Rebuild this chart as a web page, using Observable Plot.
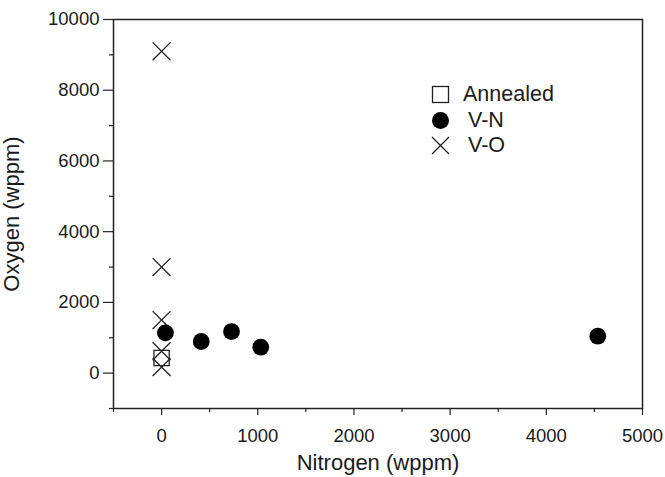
<!DOCTYPE html>
<html><head><meta charset="utf-8">
<script src="https://cdn.jsdelivr.net/npm/d3@7"></script>
<script src="https://cdn.jsdelivr.net/npm/@observablehq/plot@0.6"></script>
<style>
body{margin:0;background:#fff;}
#wrap{position:relative;width:665px;height:477px;font-family:"Liberation Sans",Arial,sans-serif;}
#wrap svg{font-family:"Liberation Sans",Arial,sans-serif;}
g[aria-label="x-axis label"] text, g[aria-label="y-axis label"] text{font-size:22px;}
#legend{position:absolute;left:431px;top:82px;font-size:21.5px;color:#1a1a1a;}
#legend div{display:flex;align-items:center;height:25.5px;}
#legend svg{flex:none;}
</style></head>
<body><div id="wrap"></div>
<script>
const annealedN = [0];
const annealedO = [430];
const vnN = [40, 412, 727, 1031, 4535];
const vnO = [1140, 894, 1176, 733, 1044];
const voN = [0, 0, 0, 0, 0];
const voO = [9100, 3000, 1500, 620, 170];
const xMajor = [0, 1000, 2000, 3000, 4000, 5000];
const xMinor = [-500, 500, 1500, 2500, 3500, 4500];
const yMajor = [0, 2000, 4000, 6000, 8000, 10000];
const yMinor = [-1000, 1000, 3000, 5000, 7000, 9000];
const legendItems = ["Annealed", "V-N", "V-O"];

const ann = annealedN.map((n,i)=>({n, o: annealedO[i]}));
const vn = vnN.map((n,i)=>({n, o: vnO[i]}));
const vo = voN.map((n,i)=>({n, o: voO[i]}));

const chart = Plot.plot({
  width: 665, height: 477,
  marginLeft: 113, marginRight: 23, marginTop: 19, marginBottom: 69,
  style: {fontSize: "18.5px", color: "#1a1a1a", background: "#fff"},
  x: {domain: [-500, 5000]},
  y: {domain: [-1000, 10000]},
  marks: [
    Plot.frame({stroke: "#222", strokeWidth: 1.5}),
    Plot.axisX(xMinor, {tickSize: 4, text: null, label: null, stroke: "#222", strokeWidth: 1.2}),
    Plot.axisX(xMajor, {tickSize: 7, tickPadding: 13, tickFormat: d => String(d), label: "Nitrogen (wppm)", labelArrow: "none", labelAnchor: "center", labelOffset: 61, stroke: "#222", strokeWidth: 1.2}),
    Plot.axisY(yMinor, {tickSize: 4, text: null, label: null, stroke: "#222", strokeWidth: 1.2}),
    Plot.axisY(yMajor, {tickSize: 10, tickPadding: 4, tickFormat: d => String(d), label: "Oxygen (wppm)", labelArrow: "none", labelAnchor: "center", labelOffset: 110, stroke: "#222", strokeWidth: 1.2}),
    Plot.dot(vo, {x: "n", y: "o", symbol: "times", r: 8.2, stroke: "#222", strokeWidth: 1.3}),
    Plot.dot(ann, {x: "n", y: "o", symbol: "square", r: 8.6, stroke: "#222", strokeWidth: 1.3, fill: "none"}),
    Plot.dot(vn, {x: "n", y: "o", symbol: "circle", r: 8.4, fill: "#000", stroke: "none"})
  ]
});
const wrap = document.getElementById("wrap");
wrap.appendChild(chart);

const sym = {
  "Annealed": '<rect x="1.5" y="1.5" width="16" height="16" fill="none" stroke="#222" stroke-width="1.3"/>',
  "V-N": '<circle cx="9.5" cy="9.5" r="8.5" fill="#000"/>',
  "V-O": '<path d="M1,1L18,18M18,1L1,18" stroke="#222" stroke-width="1.3"/>'
};
const lg = document.createElement("div");
lg.id = "legend";
lg.innerHTML = legendItems.map((k,i)=>`<div><svg width="19" height="19">${sym[k]}</svg><span style="margin-left:${i===0?13:18}px">${k}</span></div>`).join("");
wrap.appendChild(lg);
</script>
</body></html>
